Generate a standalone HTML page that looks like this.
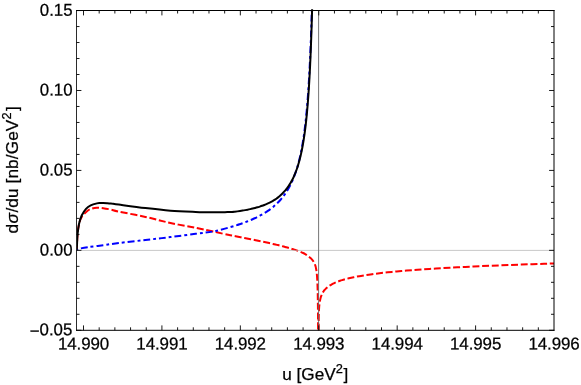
<!DOCTYPE html>
<html><head><meta charset="utf-8"><title>plot</title>
<style>
html,body{margin:0;padding:0;background:#fff;}
body{width:581px;height:385px;overflow:hidden;font-family:"Liberation Sans",sans-serif;}
svg{display:block;will-change:transform;opacity:0.999}
text{font-family:"Liberation Sans",sans-serif;font-size:17.2px;fill:#000;stroke:#000;stroke-width:0.25px;}
</style></head><body>
<svg width="581" height="385" viewBox="0 0 581 385">
<rect width="581" height="385" fill="#fff"/>
<defs><clipPath id="c"><rect x="76.5" y="9.3" width="477.5" height="321.0"/></clipPath><clipPath id="c2"><rect x="76.5" y="10.5" width="477.5" height="319.8"/></clipPath></defs>
<g clip-path="url(#c)" fill="none" stroke-linejoin="round">
<path d="M76.70,250.20 C76.75,249.33 76.87,247.53 77.00,245.00 C77.13,242.47 77.17,238.42 77.50,235.00 C77.83,231.58 78.30,227.50 79.00,224.50 C79.70,221.50 80.27,219.28 81.70,217.00 C83.13,214.72 85.83,212.22 87.60,210.80 C89.37,209.38 90.75,209.02 92.30,208.50 C93.85,207.98 95.08,207.75 96.90,207.70 C98.72,207.65 100.85,207.88 103.20,208.20 C105.55,208.52 108.40,209.03 111.00,209.60 C113.60,210.17 113.07,210.38 118.80,211.60 C124.53,212.82 136.78,215.00 145.40,216.90 C154.02,218.80 162.13,221.18 170.50,223.00 C178.87,224.82 188.07,226.28 195.60,227.80 C203.13,229.32 210.30,230.93 215.70,232.10 C221.10,233.27 225.53,234.30 228.00,234.83 C230.47,235.37 229.69,235.14 230.53,235.30 C231.37,235.46 232.22,235.62 233.06,235.78 C233.90,235.93 234.74,236.09 235.58,236.25 C236.42,236.41 237.27,236.57 238.11,236.73 C238.95,236.89 239.79,237.05 240.62,237.22 C241.46,237.38 242.30,237.54 243.14,237.70 C243.98,237.87 244.81,238.03 245.65,238.19 C246.49,238.36 247.32,238.52 248.16,238.69 C248.99,238.85 249.83,239.02 250.66,239.19 C251.50,239.35 252.33,239.52 253.16,239.69 C254.00,239.86 254.83,240.03 255.66,240.20 C256.49,240.37 257.32,240.54 258.15,240.71 C258.98,240.88 259.80,241.06 260.63,241.23 C261.46,241.41 262.28,241.58 263.11,241.76 C263.93,241.93 264.76,242.11 265.58,242.29 C266.40,242.47 267.22,242.65 268.04,242.83 C268.86,243.01 269.68,243.20 270.50,243.38 C271.32,243.57 272.13,243.75 272.95,243.94 C273.76,244.13 274.57,244.32 275.38,244.51 C276.20,244.70 277.00,244.89 277.81,245.09 C278.62,245.28 279.42,245.48 280.23,245.68 C281.03,245.88 281.83,246.08 282.63,246.29 C283.43,246.50 284.22,246.70 285.01,246.91 C285.81,247.13 286.60,247.34 287.38,247.56 C288.17,247.78 288.95,248.00 289.73,248.22 C290.51,248.45 291.29,248.68 292.06,248.92 C292.83,249.15 293.59,249.39 294.36,249.64 C295.12,249.88 295.87,250.13 296.62,250.39 C297.37,250.65 298.12,250.92 298.85,251.20 C299.59,251.47 300.32,251.75 301.03,252.05 C301.75,252.35 302.46,252.66 303.15,253.00 C303.84,253.34 304.52,253.69 305.18,254.07 C305.83,254.45 306.46,254.86 307.07,255.29 C307.68,255.71 308.26,256.15 308.83,256.61 C309.41,257.06 309.97,257.52 310.51,258.02 C311.05,258.51 311.59,259.01 312.09,259.58 C312.59,260.15 313.07,260.76 313.50,261.44 C313.93,262.13 314.33,262.88 314.67,263.69 C315.01,264.50 315.30,265.39 315.55,266.31 C315.80,267.23 316.01,268.22 316.19,269.22 C316.37,270.21 316.51,271.26 316.64,272.30 C316.76,273.34 316.86,274.41 316.96,275.48 C317.05,276.54 317.12,277.62 317.19,278.69 C317.25,279.77 317.31,280.84 317.36,281.92 C317.41,282.99 317.45,284.07 317.49,285.14 C317.53,286.21 317.56,287.28 317.60,288.35 C317.63,289.41 317.65,290.48 317.68,291.54 C317.70,292.60 317.73,293.66 317.75,294.72 C317.77,295.77 317.79,296.83 317.80,297.88 C317.82,298.93 317.84,299.98 317.85,301.02 C317.87,302.07 317.88,303.11 317.89,304.15 C317.90,305.19 317.92,306.23 317.93,307.27 C317.94,308.30 317.95,309.34 317.96,310.37 C317.97,311.40 317.98,312.43 317.98,313.46 C317.99,314.49 318.00,315.51 318.01,316.54 C318.02,317.56 318.02,318.56 318.03,319.61 C318.04,320.65 318.04,321.68 318.05,322.82 C318.06,323.95 318.06,325.14 318.07,326.41 C318.08,327.68 318.08,329.01 318.09,330.45 C318.10,331.88 318.11,334.26 318.11,335.02" stroke="#ff0000" stroke-width="2" stroke-dasharray="7.0 2.7" stroke-dashoffset="0.9"/>
<path d="M318.62,332.20 C318.62,331.70 318.62,330.20 318.63,329.20 C318.63,328.20 318.63,327.20 318.64,326.20 C318.65,325.20 318.65,324.20 318.66,323.20 C318.67,322.20 318.68,321.20 318.69,320.20 C318.71,319.20 318.72,318.20 318.74,317.20 C318.76,316.20 318.78,315.20 318.81,314.20 C318.84,313.20 318.88,312.20 318.92,311.20 C318.97,310.20 319.02,309.20 319.09,308.20 C319.16,307.20 319.23,306.20 319.34,305.20 C319.44,304.20 319.56,303.20 319.72,302.20 C319.88,301.20 320.05,300.20 320.29,299.20 C320.53,298.20 320.79,297.20 321.16,296.20 C321.52,295.20 322.09,293.98 322.47,293.20 C322.86,292.42 323.11,292.07 323.47,291.54 C323.83,291.00 324.24,290.46 324.64,289.97 C325.05,289.49 325.46,289.05 325.88,288.63 C326.30,288.21 326.73,287.82 327.17,287.45 C327.61,287.07 328.07,286.72 328.53,286.38 C328.99,286.04 329.47,285.72 329.96,285.41 C330.44,285.10 330.94,284.80 331.45,284.51 C331.97,284.22 332.49,283.95 333.03,283.68 C333.56,283.41 334.11,283.15 334.68,282.89 C335.24,282.64 335.82,282.39 336.41,282.15 C337.00,281.91 337.61,281.67 338.23,281.45 C338.85,281.22 339.49,280.99 340.14,280.77 C340.80,280.55 341.47,280.34 342.15,280.13 C342.84,279.92 343.54,279.71 344.26,279.51 C344.98,279.30 345.72,279.10 346.47,278.91 C347.23,278.71 348.00,278.52 348.80,278.33 C349.59,278.14 350.40,277.95 351.23,277.77 C352.07,277.58 352.92,277.40 353.80,277.22 C354.67,277.04 355.57,276.86 356.49,276.69 C357.41,276.51 358.35,276.34 359.31,276.16 C360.28,275.99 361.26,275.82 362.28,275.66 C363.29,275.49 364.33,275.32 365.39,275.16 C366.45,274.99 367.54,274.83 368.66,274.67 C369.78,274.51 370.92,274.35 372.09,274.19 C373.27,274.03 374.47,273.87 375.70,273.72 C376.93,273.56 378.19,273.41 379.48,273.25 C380.78,273.10 382.10,272.95 383.46,272.79 C384.81,272.64 386.20,272.49 387.63,272.34 C389.05,272.19 390.51,272.04 392.01,271.90 C393.51,271.75 395.04,271.60 396.61,271.46 C398.18,271.31 399.79,271.17 401.44,271.02 C403.09,270.88 404.78,270.73 406.51,270.59 C408.25,270.45 410.02,270.31 411.84,270.17 C413.66,270.02 415.52,269.88 417.43,269.74 C419.34,269.60 421.30,269.46 423.30,269.33 C425.31,269.19 427.36,269.05 429.47,268.91 C431.57,268.77 433.73,268.64 435.94,268.50 C438.15,268.36 440.42,268.23 442.74,268.09 C445.06,267.96 447.44,267.82 449.88,267.69 C452.31,267.55 454.81,267.42 457.37,267.29 C459.93,267.15 462.55,267.02 465.24,266.89 C467.93,266.75 470.68,266.62 473.50,266.49 C476.32,266.36 479.21,266.23 482.17,266.10 C485.14,265.96 488.17,265.83 491.28,265.70 C494.40,265.57 497.58,265.44 500.85,265.31 C504.12,265.18 507.46,265.05 510.89,264.92 C514.32,264.80 517.83,264.67 521.43,264.54 C525.04,264.41 528.72,264.28 532.51,264.15 C536.29,264.03 540.55,263.89 544.13,263.77 C547.71,263.65 552.36,263.51 554.00,263.46" stroke="#ff0000" stroke-width="2" stroke-dasharray="6.97 2.7" stroke-dashoffset="-1.6"/>
<path clip-path="url(#c2)" d="M76.70,250.20 C76.83,250.07 76.95,249.67 77.50,249.40 C78.05,249.13 78.32,248.97 80.00,248.60 C81.68,248.22 83.73,247.72 87.60,247.15 C91.47,246.58 98.00,245.89 103.20,245.20 C108.40,244.51 111.77,243.87 118.80,243.00 C125.83,242.13 136.78,240.98 145.40,240.00 C154.02,239.02 162.13,238.13 170.50,237.10 C178.87,236.07 188.07,234.82 195.60,233.80 C203.13,232.78 209.13,232.34 215.70,231.00 C222.27,229.66 231.40,226.73 235.00,225.73 C238.60,224.73 236.53,225.25 237.28,225.00 C238.04,224.76 238.80,224.51 239.55,224.25 C240.30,224.00 241.05,223.74 241.79,223.48 C242.53,223.21 243.27,222.95 244.01,222.68 C244.74,222.41 245.47,222.13 246.20,221.85 C246.92,221.57 247.65,221.29 248.36,221.00 C249.08,220.71 249.80,220.42 250.50,220.12 C251.21,219.82 251.91,219.51 252.61,219.21 C253.31,218.90 254.00,218.58 254.69,218.26 C255.38,217.94 256.06,217.62 256.74,217.28 C257.42,216.95 258.09,216.62 258.75,216.27 C259.42,215.93 260.08,215.58 260.73,215.22 C261.38,214.87 262.03,214.50 262.67,214.13 C263.31,213.77 263.95,213.39 264.58,213.01 C265.20,212.62 265.83,212.23 266.44,211.84 C267.05,211.44 267.66,211.04 268.26,210.62 C268.86,210.21 269.45,209.79 270.04,209.36 C270.63,208.94 271.20,208.50 271.77,208.06 C272.34,207.62 272.91,207.16 273.46,206.70 C274.02,206.24 274.57,205.78 275.10,205.30 C275.64,204.82 276.16,204.32 276.67,203.82 C277.19,203.32 277.70,202.82 278.20,202.30 C278.70,201.78 279.19,201.26 279.67,200.73 C280.16,200.19 280.63,199.65 281.10,199.10 C281.57,198.55 282.03,197.99 282.48,197.42 C282.93,196.86 283.37,196.28 283.81,195.70 C284.24,195.11 284.67,194.52 285.09,193.92 C285.50,193.31 285.91,192.70 286.32,192.09 C286.72,191.47 287.11,190.84 287.50,190.20 C287.88,189.57 288.26,188.92 288.63,188.27 C289.00,187.62 289.36,186.96 289.71,186.29 C290.07,185.62 290.41,184.94 290.75,184.26 C291.09,183.57 291.42,182.88 291.74,182.18 C292.06,181.48 292.38,180.77 292.69,180.06 C292.99,179.34 293.30,178.62 293.59,177.89 C293.88,177.16 294.17,176.42 294.45,175.68 C294.73,174.93 295.00,174.18 295.27,173.43 C295.54,172.67 295.80,171.91 296.05,171.14 C296.31,170.37 296.56,169.59 296.80,168.81 C297.05,168.03 297.28,167.24 297.52,166.45 C297.75,165.66 297.97,164.86 298.19,164.05 C298.41,163.25 298.63,162.44 298.84,161.62 C299.05,160.81 299.25,159.99 299.45,159.16 C299.65,158.34 299.85,157.51 300.04,156.67 C300.22,155.84 300.41,155.00 300.59,154.15 C300.77,153.31 300.95,152.46 301.12,151.61 C301.29,150.76 301.46,149.90 301.62,149.04 C301.78,148.18 301.94,147.31 302.10,146.44 C302.26,145.58 302.41,144.70 302.56,143.83 C302.70,142.95 302.85,142.07 302.99,141.19 C303.13,140.31 303.27,139.42 303.40,138.54 C303.54,137.65 303.67,136.75 303.80,135.86 C303.93,134.97 304.05,134.07 304.17,133.17 C304.30,132.27 304.42,131.37 304.53,130.46 C304.65,129.56 304.77,128.65 304.88,127.74 C304.99,126.83 305.10,125.91 305.21,125.00 C305.31,124.09 305.42,123.17 305.52,122.25 C305.62,121.33 305.72,120.41 305.82,119.49 C305.92,118.56 306.01,117.64 306.11,116.71 C306.20,115.79 306.29,114.86 306.38,113.93 C306.47,113.00 306.56,112.07 306.65,111.13 C306.73,110.20 306.82,109.26 306.90,108.33 C306.98,107.39 307.07,106.45 307.15,105.51 C307.23,104.57 307.30,103.63 307.38,102.69 C307.46,101.75 307.53,100.80 307.61,99.86 C307.68,98.92 307.75,97.97 307.82,97.02 C307.89,96.07 307.96,95.13 308.03,94.18 C308.10,93.23 308.17,92.28 308.23,91.32 C308.30,90.37 308.36,89.42 308.43,88.47 C308.49,87.51 308.55,86.56 308.61,85.60 C308.67,84.65 308.73,83.69 308.79,82.73 C308.85,81.77 308.91,80.81 308.97,79.86 C309.02,78.90 309.08,77.94 309.13,76.97 C309.19,76.01 309.24,75.05 309.30,74.09 C309.35,73.13 309.40,72.16 309.45,71.20 C309.50,70.23 309.56,69.27 309.60,68.30 C309.65,67.34 309.70,66.37 309.75,65.40 C309.80,64.44 309.85,63.47 309.89,62.50 C309.94,61.53 309.99,60.56 310.03,59.59 C310.08,58.62 310.12,57.65 310.16,56.68 C310.21,55.71 310.25,54.74 310.29,53.77 C310.34,52.80 310.38,51.82 310.42,50.85 C310.46,49.88 310.50,48.90 310.54,47.93 C310.58,46.96 310.62,45.98 310.66,45.01 C310.70,44.03 310.73,43.06 310.77,42.08 C310.81,41.10 310.85,40.13 310.88,39.15 C310.92,38.17 310.95,37.20 310.99,36.22 C311.03,35.24 311.06,34.26 311.09,33.28 C311.13,32.31 311.16,31.33 311.20,30.35 C311.23,29.37 311.26,28.39 311.30,27.41 C311.33,26.43 311.36,25.45 311.39,24.47 C311.42,23.49 311.45,22.51 311.48,21.52 C311.52,20.54 311.55,19.56 311.58,18.58 C311.61,17.60 311.64,16.61 311.66,15.63 C311.69,14.65 311.72,13.67 311.75,12.68 C311.78,11.70 311.81,10.72 311.83,9.73 C311.86,8.75 311.89,7.76 311.92,6.78 C311.94,5.80 311.98,4.32 312.00,3.83" stroke="#0000ff" stroke-width="2" stroke-dasharray="6.85 3.0 2.85 3.0" stroke-dashoffset="-4.8"/>
<path d="M76.70,250.20 C76.75,249.33 76.87,247.53 77.00,245.00 C77.13,242.47 77.17,238.50 77.50,235.00 C77.83,231.50 78.30,227.25 79.00,224.00 C79.70,220.75 80.53,218.03 81.70,215.50 C82.87,212.97 84.50,210.48 86.00,208.80 C87.50,207.12 88.88,206.30 90.70,205.40 C92.52,204.50 95.35,203.78 96.90,203.40 C98.45,203.02 98.95,203.17 100.00,203.10 C101.05,203.03 102.03,202.99 103.20,203.00 C104.37,203.01 105.70,203.07 107.00,203.15 C108.30,203.23 109.03,203.26 111.00,203.50 C112.97,203.74 113.07,203.83 118.80,204.60 C124.53,205.37 136.78,207.08 145.40,208.10 C154.02,209.12 162.13,210.05 170.50,210.70 C178.87,211.35 189.85,211.75 195.60,212.00 C201.35,212.25 201.65,212.16 205.00,212.20 C208.35,212.24 212.37,212.26 215.70,212.25 C219.03,212.24 222.28,212.19 225.00,212.15 C227.72,212.11 230.38,212.10 232.00,212.03 C233.62,211.95 233.80,211.82 234.70,211.71 C235.60,211.60 236.49,211.49 237.37,211.37 C238.26,211.25 239.14,211.12 240.01,210.99 C240.89,210.86 241.76,210.72 242.62,210.58 C243.49,210.44 244.35,210.29 245.20,210.14 C246.05,209.98 246.90,209.82 247.74,209.65 C248.58,209.49 249.41,209.31 250.24,209.13 C251.07,208.95 251.89,208.76 252.70,208.56 C253.51,208.37 254.32,208.16 255.12,207.95 C255.91,207.74 256.71,207.52 257.49,207.29 C258.27,207.06 259.04,206.82 259.81,206.58 C260.57,206.33 261.33,206.08 262.08,205.81 C262.83,205.55 263.57,205.27 264.29,204.99 C265.02,204.71 265.74,204.41 266.45,204.11 C267.16,203.81 267.86,203.49 268.55,203.17 C269.24,202.84 269.92,202.51 270.59,202.16 C271.26,201.81 271.92,201.45 272.57,201.08 C273.22,200.71 273.85,200.34 274.48,199.94 C275.11,199.54 275.73,199.12 276.32,198.69 C276.92,198.27 277.50,197.83 278.07,197.38 C278.64,196.94 279.20,196.48 279.75,196.00 C280.30,195.53 280.84,195.05 281.37,194.56 C281.89,194.06 282.41,193.55 282.91,193.04 C283.42,192.52 283.91,191.99 284.39,191.45 C284.88,190.90 285.35,190.35 285.81,189.79 C286.27,189.22 286.71,188.65 287.15,188.06 C287.59,187.47 288.02,186.87 288.43,186.26 C288.85,185.66 289.26,185.03 289.65,184.40 C290.05,183.77 290.43,183.13 290.81,182.48 C291.18,181.83 291.55,181.17 291.90,180.49 C292.26,179.82 292.60,179.14 292.94,178.45 C293.28,177.76 293.60,177.06 293.92,176.35 C294.24,175.64 294.55,174.92 294.85,174.19 C295.15,173.47 295.45,172.73 295.73,171.99 C296.02,171.25 296.29,170.51 296.56,169.75 C296.83,168.99 297.10,168.23 297.35,167.46 C297.61,166.68 297.86,165.90 298.10,165.12 C298.34,164.33 298.57,163.54 298.80,162.74 C299.03,161.94 299.25,161.13 299.47,160.32 C299.69,159.51 299.89,158.69 300.10,157.87 C300.30,157.04 300.50,156.21 300.69,155.38 C300.89,154.54 301.08,153.70 301.26,152.86 C301.44,152.02 301.62,151.17 301.79,150.31 C301.96,149.46 302.13,148.60 302.30,147.74 C302.46,146.87 302.62,146.01 302.77,145.14 C302.93,144.27 303.08,143.39 303.23,142.51 C303.38,141.64 303.52,140.75 303.66,139.87 C303.80,138.98 303.94,138.09 304.07,137.20 C304.20,136.31 304.33,135.42 304.46,134.52 C304.58,133.62 304.71,132.72 304.83,131.82 C304.95,130.91 305.07,130.01 305.18,129.10 C305.29,128.19 305.41,127.28 305.52,126.36 C305.62,125.45 305.73,124.53 305.84,123.61 C305.94,122.69 306.04,121.77 306.14,120.85 C306.24,119.93 306.34,119.00 306.43,118.08 C306.53,117.15 306.62,116.22 306.71,115.29 C306.80,114.36 306.89,113.43 306.98,112.49 C307.06,111.56 307.15,110.62 307.23,109.68 C307.32,108.75 307.40,107.81 307.48,106.87 C307.56,105.93 307.63,104.98 307.71,104.04 C307.79,103.10 307.86,102.15 307.94,101.20 C308.01,100.26 308.08,99.31 308.15,98.36 C308.22,97.41 308.29,96.46 308.36,95.51 C308.43,94.56 308.49,93.61 308.56,92.65 C308.62,91.70 308.68,90.75 308.75,89.79 C308.81,88.83 308.87,87.88 308.93,86.92 C308.99,85.96 309.05,85.00 309.11,84.04 C309.17,83.08 309.22,82.12 309.28,81.16 C309.34,80.20 309.39,79.24 309.44,78.27 C309.50,77.31 309.55,76.35 309.60,75.38 C309.65,74.42 309.71,73.45 309.76,72.49 C309.81,71.52 309.85,70.55 309.90,69.59 C309.95,68.62 310.00,67.65 310.05,66.68 C310.09,65.71 310.14,64.74 310.18,63.77 C310.23,62.80 310.27,61.83 310.32,60.86 C310.36,59.89 310.40,58.91 310.45,57.94 C310.49,56.97 310.53,56.00 310.57,55.02 C310.61,54.05 310.65,53.07 310.69,52.10 C310.73,51.12 310.77,50.15 310.81,49.17 C310.85,48.20 310.89,47.22 310.92,46.25 C310.96,45.27 311.00,44.29 311.03,43.31 C311.07,42.34 311.11,41.36 311.14,40.38 C311.18,39.40 311.21,38.42 311.24,37.44 C311.28,36.46 311.31,35.48 311.34,34.50 C311.38,33.52 311.41,32.54 311.44,31.56 C311.47,30.58 311.51,29.60 311.54,28.62 C311.57,27.64 311.60,26.66 311.63,25.67 C311.66,24.69 311.69,23.71 311.72,22.73 C311.75,21.74 311.78,20.76 311.81,19.78 C311.84,18.79 311.86,17.81 311.89,16.83 C311.92,15.84 311.95,14.86 311.98,13.87 C312.00,12.89 312.03,11.91 312.06,10.92 C312.08,9.94 312.11,8.95 312.13,7.97 C312.16,6.98 312.19,5.99 312.21,5.01 C312.24,4.02 312.27,2.54 312.29,2.05" stroke="#000" stroke-width="2"/>
</g>
<g fill="none">
<line x1="76.5" y1="250.4" x2="554.0" y2="250.4" stroke="#b0b0b0" stroke-width="0.7"/>
<line x1="318.6" y1="10.5" x2="318.6" y2="330.3" stroke="#666" stroke-width="0.9"/>
</g>
<g stroke="#000" stroke-width="0.9" fill="none">
<line x1="76.5" y1="10.0" x2="76.5" y2="330.8" stroke-width="1" stroke="#2b2b2b"/>
<line x1="76.0" y1="10.5" x2="554.5" y2="10.5" stroke-width="1"/>
<line x1="554.0" y1="10.0" x2="554.0" y2="330.8" stroke-width="1"/>
<line x1="76.0" y1="330.3" x2="554.5" y2="330.3" stroke-width="1"/>
<line x1="83.50" y1="330.30" x2="83.50" y2="325.40"/>
<line x1="83.50" y1="10.50" x2="83.50" y2="15.40"/>
<line x1="99.18" y1="330.30" x2="99.18" y2="327.30"/>
<line x1="99.18" y1="10.50" x2="99.18" y2="13.50"/>
<line x1="114.87" y1="330.30" x2="114.87" y2="327.30"/>
<line x1="114.87" y1="10.50" x2="114.87" y2="13.50"/>
<line x1="130.55" y1="330.30" x2="130.55" y2="327.30"/>
<line x1="130.55" y1="10.50" x2="130.55" y2="13.50"/>
<line x1="146.24" y1="330.30" x2="146.24" y2="327.30"/>
<line x1="146.24" y1="10.50" x2="146.24" y2="13.50"/>
<line x1="161.92" y1="330.30" x2="161.92" y2="325.40"/>
<line x1="161.92" y1="10.50" x2="161.92" y2="15.40"/>
<line x1="177.60" y1="330.30" x2="177.60" y2="327.30"/>
<line x1="177.60" y1="10.50" x2="177.60" y2="13.50"/>
<line x1="193.29" y1="330.30" x2="193.29" y2="327.30"/>
<line x1="193.29" y1="10.50" x2="193.29" y2="13.50"/>
<line x1="208.97" y1="330.30" x2="208.97" y2="327.30"/>
<line x1="208.97" y1="10.50" x2="208.97" y2="13.50"/>
<line x1="224.66" y1="330.30" x2="224.66" y2="327.30"/>
<line x1="224.66" y1="10.50" x2="224.66" y2="13.50"/>
<line x1="240.34" y1="330.30" x2="240.34" y2="325.40"/>
<line x1="240.34" y1="10.50" x2="240.34" y2="15.40"/>
<line x1="256.02" y1="330.30" x2="256.02" y2="327.30"/>
<line x1="256.02" y1="10.50" x2="256.02" y2="13.50"/>
<line x1="271.71" y1="330.30" x2="271.71" y2="327.30"/>
<line x1="271.71" y1="10.50" x2="271.71" y2="13.50"/>
<line x1="287.39" y1="330.30" x2="287.39" y2="327.30"/>
<line x1="287.39" y1="10.50" x2="287.39" y2="13.50"/>
<line x1="303.08" y1="330.30" x2="303.08" y2="327.30"/>
<line x1="303.08" y1="10.50" x2="303.08" y2="13.50"/>
<line x1="318.76" y1="330.30" x2="318.76" y2="325.40"/>
<line x1="318.76" y1="10.50" x2="318.76" y2="15.40"/>
<line x1="334.44" y1="330.30" x2="334.44" y2="327.30"/>
<line x1="334.44" y1="10.50" x2="334.44" y2="13.50"/>
<line x1="350.13" y1="330.30" x2="350.13" y2="327.30"/>
<line x1="350.13" y1="10.50" x2="350.13" y2="13.50"/>
<line x1="365.81" y1="330.30" x2="365.81" y2="327.30"/>
<line x1="365.81" y1="10.50" x2="365.81" y2="13.50"/>
<line x1="381.50" y1="330.30" x2="381.50" y2="327.30"/>
<line x1="381.50" y1="10.50" x2="381.50" y2="13.50"/>
<line x1="397.18" y1="330.30" x2="397.18" y2="325.40"/>
<line x1="397.18" y1="10.50" x2="397.18" y2="15.40"/>
<line x1="412.86" y1="330.30" x2="412.86" y2="327.30"/>
<line x1="412.86" y1="10.50" x2="412.86" y2="13.50"/>
<line x1="428.55" y1="330.30" x2="428.55" y2="327.30"/>
<line x1="428.55" y1="10.50" x2="428.55" y2="13.50"/>
<line x1="444.23" y1="330.30" x2="444.23" y2="327.30"/>
<line x1="444.23" y1="10.50" x2="444.23" y2="13.50"/>
<line x1="459.92" y1="330.30" x2="459.92" y2="327.30"/>
<line x1="459.92" y1="10.50" x2="459.92" y2="13.50"/>
<line x1="475.60" y1="330.30" x2="475.60" y2="325.40"/>
<line x1="475.60" y1="10.50" x2="475.60" y2="15.40"/>
<line x1="491.28" y1="330.30" x2="491.28" y2="327.30"/>
<line x1="491.28" y1="10.50" x2="491.28" y2="13.50"/>
<line x1="506.97" y1="330.30" x2="506.97" y2="327.30"/>
<line x1="506.97" y1="10.50" x2="506.97" y2="13.50"/>
<line x1="522.65" y1="330.30" x2="522.65" y2="327.30"/>
<line x1="522.65" y1="10.50" x2="522.65" y2="13.50"/>
<line x1="538.34" y1="330.30" x2="538.34" y2="327.30"/>
<line x1="538.34" y1="10.50" x2="538.34" y2="13.50"/>
<line x1="76.50" y1="330.28" x2="81.40" y2="330.28"/>
<line x1="554.00" y1="330.28" x2="549.10" y2="330.28"/>
<line x1="76.50" y1="314.29" x2="79.50" y2="314.29"/>
<line x1="554.00" y1="314.29" x2="551.00" y2="314.29"/>
<line x1="76.50" y1="298.31" x2="79.50" y2="298.31"/>
<line x1="554.00" y1="298.31" x2="551.00" y2="298.31"/>
<line x1="76.50" y1="282.32" x2="79.50" y2="282.32"/>
<line x1="554.00" y1="282.32" x2="551.00" y2="282.32"/>
<line x1="76.50" y1="266.34" x2="79.50" y2="266.34"/>
<line x1="554.00" y1="266.34" x2="551.00" y2="266.34"/>
<line x1="76.50" y1="250.35" x2="81.40" y2="250.35"/>
<line x1="554.00" y1="250.35" x2="549.10" y2="250.35"/>
<line x1="76.50" y1="234.36" x2="79.50" y2="234.36"/>
<line x1="554.00" y1="234.36" x2="551.00" y2="234.36"/>
<line x1="76.50" y1="218.38" x2="79.50" y2="218.38"/>
<line x1="554.00" y1="218.38" x2="551.00" y2="218.38"/>
<line x1="76.50" y1="202.39" x2="79.50" y2="202.39"/>
<line x1="554.00" y1="202.39" x2="551.00" y2="202.39"/>
<line x1="76.50" y1="186.41" x2="79.50" y2="186.41"/>
<line x1="554.00" y1="186.41" x2="551.00" y2="186.41"/>
<line x1="76.50" y1="170.42" x2="81.40" y2="170.42"/>
<line x1="554.00" y1="170.42" x2="549.10" y2="170.42"/>
<line x1="76.50" y1="154.43" x2="79.50" y2="154.43"/>
<line x1="554.00" y1="154.43" x2="551.00" y2="154.43"/>
<line x1="76.50" y1="138.45" x2="79.50" y2="138.45"/>
<line x1="554.00" y1="138.45" x2="551.00" y2="138.45"/>
<line x1="76.50" y1="122.46" x2="79.50" y2="122.46"/>
<line x1="554.00" y1="122.46" x2="551.00" y2="122.46"/>
<line x1="76.50" y1="106.48" x2="79.50" y2="106.48"/>
<line x1="554.00" y1="106.48" x2="551.00" y2="106.48"/>
<line x1="76.50" y1="90.49" x2="81.40" y2="90.49"/>
<line x1="554.00" y1="90.49" x2="549.10" y2="90.49"/>
<line x1="76.50" y1="74.50" x2="79.50" y2="74.50"/>
<line x1="554.00" y1="74.50" x2="551.00" y2="74.50"/>
<line x1="76.50" y1="58.52" x2="79.50" y2="58.52"/>
<line x1="554.00" y1="58.52" x2="551.00" y2="58.52"/>
<line x1="76.50" y1="42.53" x2="79.50" y2="42.53"/>
<line x1="554.00" y1="42.53" x2="551.00" y2="42.53"/>
<line x1="76.50" y1="26.55" x2="79.50" y2="26.55"/>
<line x1="554.00" y1="26.55" x2="551.00" y2="26.55"/>
<line x1="76.50" y1="10.56" x2="81.40" y2="10.56"/>
<line x1="554.00" y1="10.56" x2="549.10" y2="10.56"/>
</g>
<g>
<text transform="translate(83.50,349.5) rotate(0.03) scale(0.985,1.0)" text-anchor="middle" letter-spacing="-0.1">14.990</text>
<text transform="translate(161.92,349.5) rotate(0.03) scale(0.985,1.0)" text-anchor="middle" letter-spacing="-0.1">14.991</text>
<text transform="translate(240.34,349.5) rotate(0.03) scale(0.985,1.0)" text-anchor="middle" letter-spacing="-0.1">14.992</text>
<text transform="translate(318.76,349.5) rotate(0.03) scale(0.985,1.0)" text-anchor="middle" letter-spacing="-0.1">14.993</text>
<text transform="translate(397.18,349.5) rotate(0.03) scale(0.985,1.0)" text-anchor="middle" letter-spacing="-0.1">14.994</text>
<text transform="translate(475.60,349.5) rotate(0.03) scale(0.985,1.0)" text-anchor="middle" letter-spacing="-0.1">14.995</text>
<text transform="translate(554.02,349.5) rotate(0.03) scale(0.985,1.0)" text-anchor="middle" letter-spacing="-0.1">14.996</text>
<text transform="translate(72.6,15.66) rotate(0.03) scale(0.98,1.0)" text-anchor="end">0.15</text>
<text transform="translate(72.6,95.59) rotate(0.03) scale(0.98,1.0)" text-anchor="end">0.10</text>
<text transform="translate(72.6,175.52) rotate(0.03) scale(0.98,1.0)" text-anchor="end">0.05</text>
<text transform="translate(72.6,255.45) rotate(0.03) scale(0.98,1.0)" text-anchor="end">0.00</text>
<text transform="translate(72.6,335.38) rotate(0.03) scale(0.98,1.0)" text-anchor="end"><tspan dy="1.3" dx="-0.3">−</tspan><tspan dy="-1.3">0.05</tspan></text>
<text x="315.2" y="379.8" text-anchor="middle" font-size="16.8">u [GeV<tspan font-size="12.8" dy="-7.3">2</tspan><tspan dy="7.3" dx="0.5">]</tspan></text>
<text transform="translate(18.2,169.8) rotate(-90)" text-anchor="middle" font-size="16.8" letter-spacing="0.12">d<tspan font-style="italic" dx="0.3">σ</tspan><tspan dx="0.3">/</tspan>du [nb/GeV<tspan font-size="12.8" dy="-7.3">2</tspan><tspan dy="7.3" dx="1.2">]</tspan></text>
</g>
</svg>
</body></html>
